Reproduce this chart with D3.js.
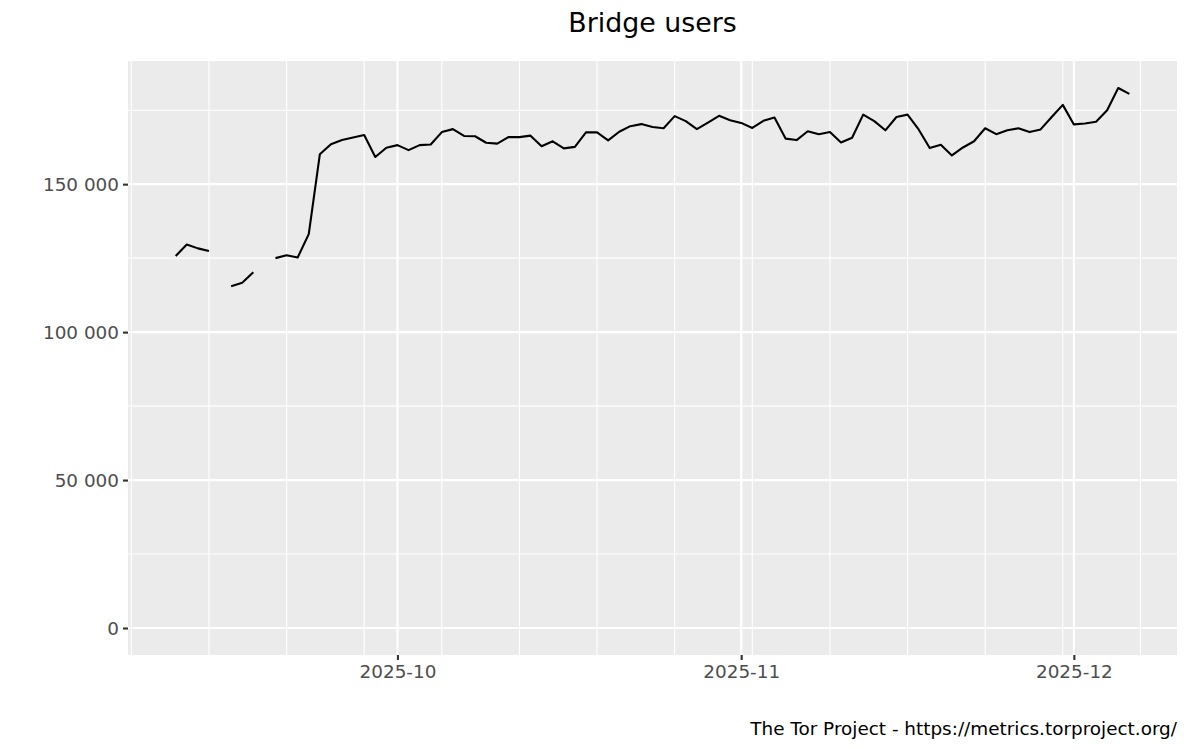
<!DOCTYPE html>
<html>
<head>
<meta charset="utf-8">
<script src="https://cdn.jsdelivr.net/npm/d3@7/dist/d3.min.js"></script>
<style>
  html, body { margin: 0; padding: 0; background: #ffffff; }
  svg { display: block; font-family: "DejaVu Sans", sans-serif; }
</style>
</head>
<body>
<svg id="chart" width="1200" height="750"></svg>
<script>
// ---- Data ----
const title = "Bridge users";
const caption = "The Tor Project - https://metrics.torproject.org/";
const startDate = "2025-09-11"; // first day of the daily series
// daily bridge users, null = missing day
const users = [
  125700, 129600, 128300, 127400, null, 115500, 116700, 120200, null, 125000,
  126000, 125200, 133100, 160100, 163500, 164900, 165800, 166600, 159200, 162300,
  163200, 161500, 163200, 163400, 167600, 168600, 166300, 166200, 164000, 163700,
  165900, 165900, 166400, 162800, 164500, 162100, 162600, 167500, 167500, 164800,
  167700, 169600, 170300, 169300, 168900, 173000, 171300, 168600, 170800, 173100,
  171600, 170700, 169000, 171400, 172500, 165400, 164900, 167900, 166900, 167600,
  164100, 165700, 173500, 171300, 168200, 172700, 173500, 168500, 162200, 163300,
  159700, 162400, 164500, 168900, 166900, 168200, 168900, 167600, 168500, 172700,
  176800, 170200, 170500, 171100, 175000, 182500, 180500
];
const yTicks = [0, 50000, 100000, 150000];
const yMinorTicks = [25000, 75000, 125000, 175000];
const xTickLabels = ["2025-10", "2025-11", "2025-12"];

// ---- Layout ----
const W = 1200, H = 750;
const panel = { left: 128, right: 1177, top: 61, bottom: 655 };

const parse = d3.timeParse("%Y-%m-%d");
const t0 = parse(startDate);
const data = users.map((v, i) => ({ date: d3.timeDay.offset(t0, i), value: v }));

const svg = d3.select("#chart");

// x scale with ggplot-like 5% expansion
const xExt = d3.extent(data, d => d.date);
const xSpan = xExt[1] - xExt[0];
const x = d3.scaleTime()
  .domain([new Date(+xExt[0] - 0.05 * xSpan), new Date(+xExt[1] + 0.05 * xSpan)])
  .range([panel.left, panel.right]);

const yMax = d3.max(users);
const yMin = 0;
const ySpan = yMax - yMin;
const y = d3.scaleLinear()
  .domain([yMin - 0.05 * ySpan, yMax + 0.05 * ySpan])
  .range([panel.bottom, panel.top]);

// panel background
svg.append("rect")
  .attr("x", panel.left).attr("y", panel.top)
  .attr("width", panel.right - panel.left).attr("height", panel.bottom - panel.top)
  .attr("fill", "#EBEBEB");

const grid = svg.append("g");
// minor x grid: weekly (Sundays)
const xMinor = d3.timeSunday.range(x.domain()[0], x.domain()[1]);
grid.selectAll("line.xminor").data(xMinor).enter().append("line")
  .attr("x1", d => x(d)).attr("x2", d => x(d))
  .attr("y1", panel.top).attr("y2", panel.bottom)
  .attr("stroke", "#ffffff").attr("stroke-width", 1.1);
// minor y grid
grid.selectAll("line.yminor").data(yMinorTicks).enter().append("line")
  .attr("x1", panel.left).attr("x2", panel.right)
  .attr("y1", d => y(d)).attr("y2", d => y(d))
  .attr("stroke", "#ffffff").attr("stroke-width", 1.1);
// major x grid: months
const xMajor = xTickLabels.map(s => parse(s + "-01"));
grid.selectAll("line.xmajor").data(xMajor).enter().append("line")
  .attr("x1", d => x(d)).attr("x2", d => x(d))
  .attr("y1", panel.top).attr("y2", panel.bottom)
  .attr("stroke", "#ffffff").attr("stroke-width", 2.2);
// major y grid
grid.selectAll("line.ymajor").data(yTicks).enter().append("line")
  .attr("x1", panel.left).attr("x2", panel.right)
  .attr("y1", d => y(d)).attr("y2", d => y(d))
  .attr("stroke", "#ffffff").attr("stroke-width", 2.2);

// data line
const line = d3.line()
  .defined(d => d.value !== null)
  .x(d => x(d.date))
  .y(d => y(d.value));
svg.append("path")
  .datum(data)
  .attr("d", line)
  .attr("fill", "none")
  .attr("stroke", "#000000")
  .attr("stroke-width", 2.1)
  .attr("stroke-linejoin", "round");

// axes
const locale = d3.formatLocale({ decimal: ".", thousands: " ", grouping: [3], currency: ["", ""] });
const yFmt = locale.format(",d");

const yAxis = svg.append("g")
  .attr("transform", `translate(${panel.left},0)`)
  .call(d3.axisLeft(y).tickValues(yTicks).tickFormat(yFmt).tickSize(5).tickPadding(4));
yAxis.select(".domain").remove();
yAxis.selectAll(".tick line").attr("stroke", "#333333").attr("stroke-width", 2.1);
yAxis.selectAll(".tick text")
  .attr("fill", "#4D4D4D").attr("font-size", "18.4px")
  .attr("font-family", "DejaVu Sans").attr("dy", "0.36em");

const monthFmt = d3.timeFormat("%Y-%m");
const xAxis = svg.append("g")
  .attr("transform", `translate(0,${panel.bottom})`)
  .call(d3.axisBottom(x).tickValues(xMajor).tickFormat(monthFmt).tickSize(5).tickPadding(4));
xAxis.select(".domain").remove();
xAxis.selectAll(".tick line").attr("stroke", "#333333").attr("stroke-width", 2.1);
xAxis.selectAll(".tick text")
  .attr("fill", "#4D4D4D").attr("font-size", "18.4px")
  .attr("font-family", "DejaVu Sans").attr("dy", "0.76em");

// title
svg.append("text")
  .attr("x", (panel.left + panel.right) / 2).attr("y", 32)
  .attr("text-anchor", "middle")
  .attr("font-size", "26.8px").attr("fill", "#000000")
  .text(title);

// caption
svg.append("text")
  .attr("x", panel.right).attr("y", 734.5)
  .attr("text-anchor", "end")
  .attr("font-size", "18.4px").attr("fill", "#000000")
  .text(caption);
</script>
</body>
</html>
